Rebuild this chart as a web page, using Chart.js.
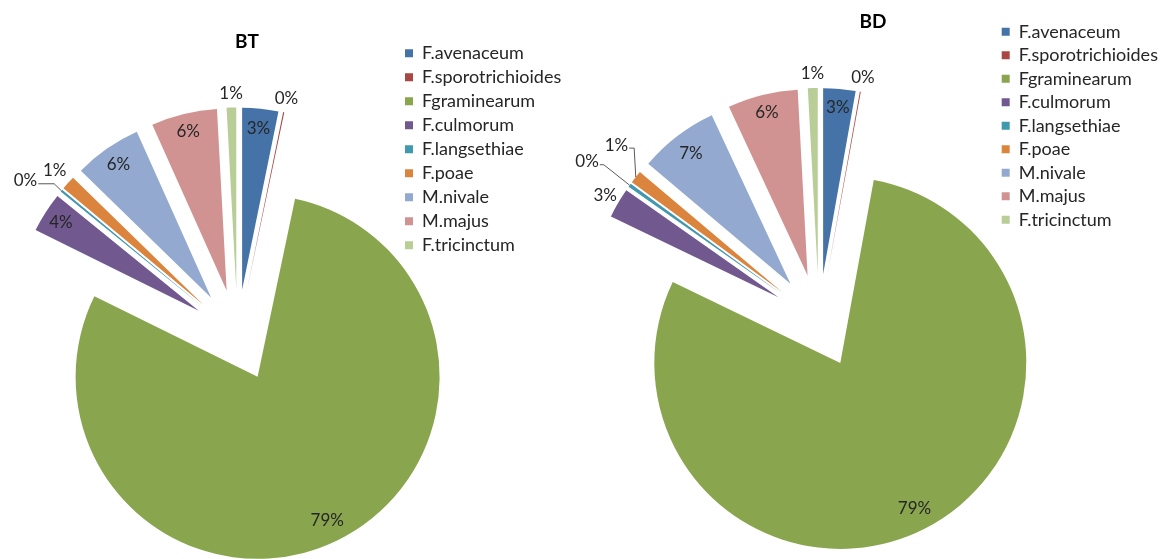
<!DOCTYPE html>
<html>
<head>
<meta charset="utf-8">
<title>BT / BD</title>
<script src="https://cdn.jsdelivr.net/npm/chart.js@4.4.0/dist/chart.umd.min.js"></script>
<style>
  html, body { margin: 0; background: #fff; overflow: hidden; }
  canvas { position: absolute; top: 0; }
</style>
</head>
<body>
<canvas id="chartBT" width="600" height="640" style="left:0"></canvas>
<canvas id="chartBD" width="640" height="640" style="left:550px"></canvas>
<script>
const especies = ['F.avenaceum', 'F.sporotrichioides', 'Fgraminearum', 'F.culmorum', 'F.langsethiae', 'F.poae', 'M.nivale', 'M.majus', 'F.tricinctum'];
const valoresBT = [3.2, 0.1, 79.0, 3.55, 0.2, 1.25, 6.0, 5.85, 0.85];
const valoresBD = [2.8, 0.08, 79.27, 2.6, 0.3, 1.1, 6.9, 6.1, 0.85];
const colores = ['#4572A7', '#AA4643', '#89A54E', '#71588F', '#4198AF', '#DB843D', '#93A9CF', '#D19392', '#B9CD96'];

// donde va cada % (fraccion del radio, giro en grados, largo del tramo horizontal de la guia)
const etiqBT = [{d: 0.89}, {d: 1.075}, {d: 0.875}, {d: 0.9}, {d: 1.19, giro: -4, guia: 16}, {d: 1.1}, {d: 0.89}, {d: 0.9}, {d: 1.075}];
const etiqBD = [{d: 0.9}, {d: 1.08}, {d: 0.88}, {d: 1.08}, {d: 1.26, giro: -1.4, guia: 4}, {d: 1.19, giro: 3.4, guia: 5}, {d: 0.88}, {d: 0.9}, {d: 1.08}];

const FUENTE = 'Lato';
const TAM_LEY = 18;

function anchoTexto(font, textos) {
    const ctx = document.createElement('canvas').getContext('2d');
    ctx.font = font;
    return Math.max(...textos.map(t => ctx.measureText(t).width));
}

function torta(cfg) {
    return {
        id: 'torta',
        beforeDatasetsDraw(chart) {
            // porciones separadas del centro como en Excel
            const a = chart.chartArea;
            const cx = (a.left + a.right) / 2;
            const cy = (a.top + a.bottom) / 2;
            chart.getDatasetMeta(0).data.forEach(arc => {
                const mid = (arc.startAngle + arc.endAngle) / 2;
                arc.x = cx + Math.cos(mid) * cfg.sep;
                arc.y = cy + Math.sin(mid) * cfg.sep;
            });
        },
        afterDatasetsDraw(chart) {
            const ctx = chart.ctx;
            const datos = chart.data.datasets[0].data;
            const total = datos.reduce((a, b) => a + b, 0);
            ctx.save();
            ctx.textAlign = 'center';
            ctx.textBaseline = 'middle';
            ctx.fillStyle = '#000';
            ctx.font = `bold 19px ${FUENTE}`;
            ctx.fillText(cfg.titulo, cfg.tituloX, cfg.tituloY);

            ctx.font = `17px ${FUENTE}`;
            ctx.fillStyle = '#262626';
            chart.getDatasetMeta(0).data.forEach((arc, i) => {
                const p = cfg.etiq[i];
                const mid = (arc.startAngle + arc.endAngle) / 2;
                const ang = mid + (p.giro || 0) * Math.PI / 180;
                const x = arc.x + Math.cos(ang) * p.d * cfg.radio;
                const y = arc.y + Math.sin(ang) * p.d * cfg.radio;
                const txt = Math.round(datos[i] / total * 100) + '%';
                ctx.fillText(txt, x, y);
                if (p.guia) {
                    const x0 = x + ctx.measureText(txt).width / 2 + 1;
                    const y0 = y + 3;
                    ctx.beginPath();
                    ctx.moveTo(x0, y0);
                    ctx.lineTo(x0 + p.guia, y0);
                    ctx.lineTo(arc.x + Math.cos(mid) * cfg.radio, arc.y + Math.sin(mid) * cfg.radio);
                    ctx.strokeStyle = '#595959';
                    ctx.lineWidth = 1;
                    ctx.stroke();
                }
            });
            ctx.restore();
        }
    };
}

function crearTorta(id, valores, cfg) {
    const canvas = document.getElementById(id);
    const W = canvas.width, H = canvas.height;
    const ley = cfg.leyPad + 8 + TAM_LEY / 2 + anchoTexto(`${TAM_LEY}px ${FUENTE}`, especies) + 10;
    const padding = {
        left: 2 * cfg.cx - cfg.leyIzq,
        right: W - cfg.leyIzq - ley,
        top: cfg.leyArriba,
        bottom: H + cfg.leyArriba - 2 * cfg.cy
    };
    return new Chart(canvas, {
        type: 'pie',
        data: {
            labels: especies,
            datasets: [{
                data: valores,
                backgroundColor: colores,
                borderWidth: 0,
                radius: cfg.radio
            }]
        },
        options: {
            responsive: false,
            animation: false,
            layout: { padding },
            plugins: {
                legend: {
                    position: 'right', align: 'start',
                    labels: { boxWidth: 8, boxHeight: 8, padding: cfg.leyPad, color: '#262626', font: { family: FUENTE, size: TAM_LEY } }
                },
                tooltip: { enabled: false }
            }
        },
        plugins: [torta(cfg)]
    });
}

crearTorta('chartBT', valoresBT, {
    titulo: 'BT', tituloX: 247, tituloY: 42,
    radio: 182, sep: 46, cx: 237.5, cy: 335.5,
    leyIzq: 399, leyArriba: 38.3, leyPad: 6,
    etiq: etiqBT
});

crearTorta('chartBD', valoresBD, {
    titulo: 'BD', tituloX: 323, tituloY: 22,
    radio: 186, sep: 47, cx: 269, cy: 321,
    leyIzq: 446.2, leyArriba: 17.2, leyPad: 5.5,
    etiq: etiqBD
});
</script>
</body>
</html>
